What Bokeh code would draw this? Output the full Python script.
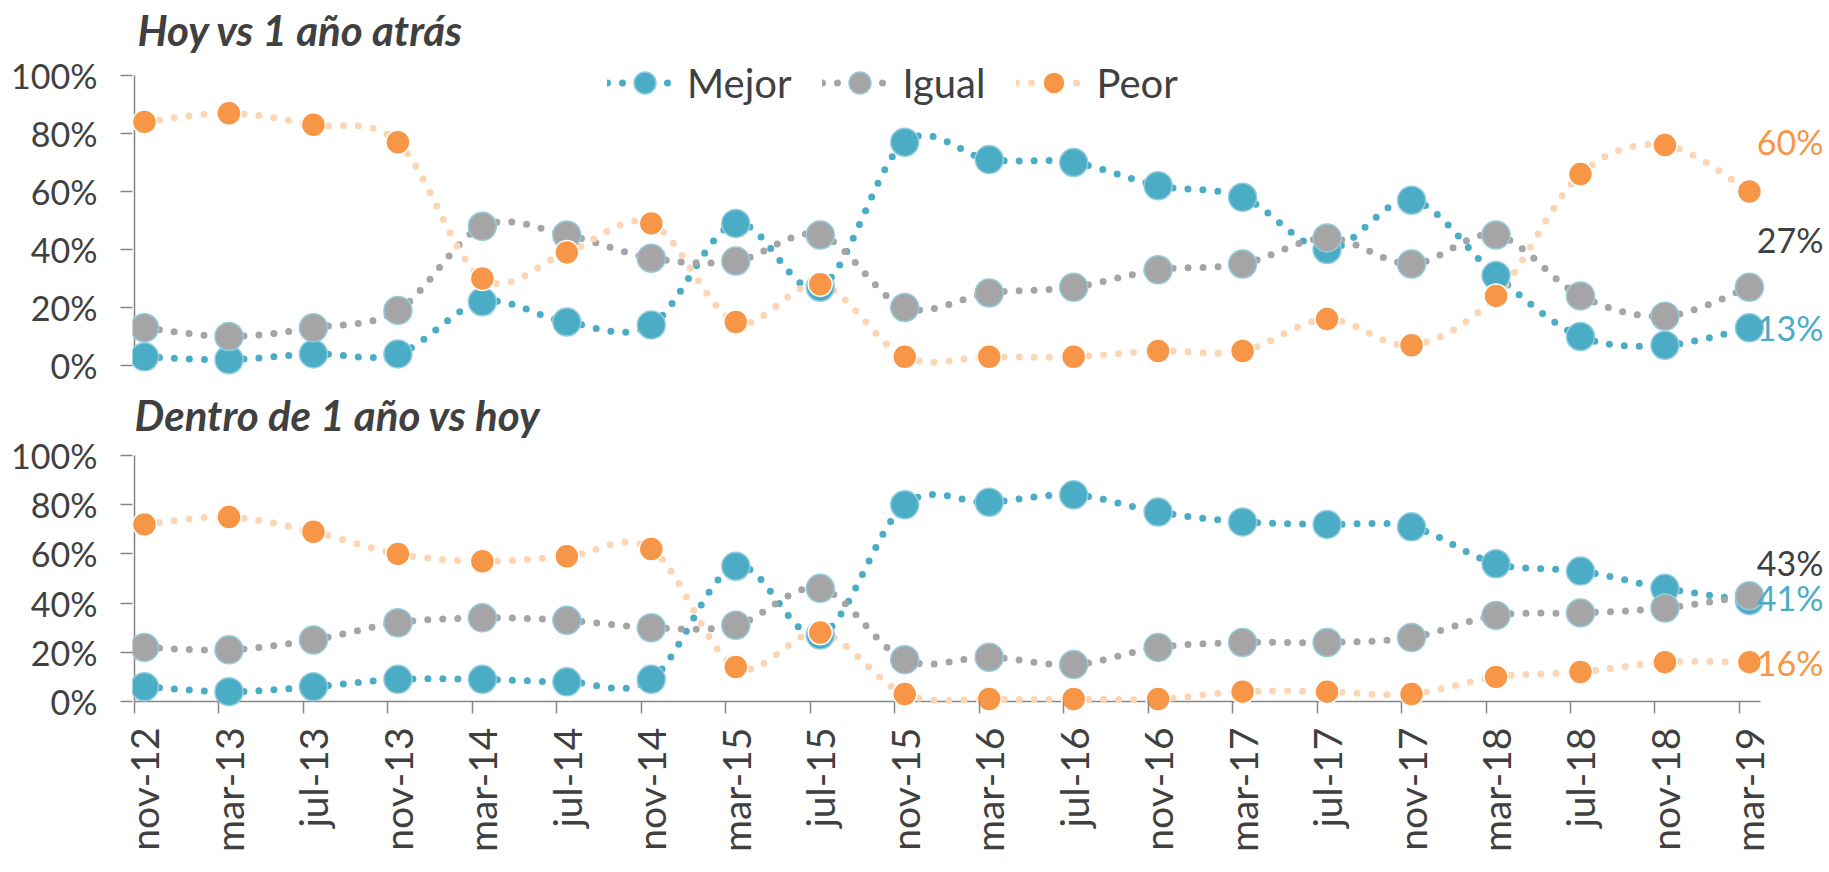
import math
from bokeh.plotting import figure
from bokeh.models import (FixedTicker, NumeralTickFormatter, Legend, LegendItem, Range1d,
                          ColumnDataSource, Label)
from bokeh.layouts import column
from bokeh.embed import file_html
from bokeh.resources import INLINE
from bokeh.core.properties import value

# ---------------- data ----------------
periods = ["nov-12", "mar-13", "jul-13", "nov-13", "mar-14", "jul-14", "nov-14",
           "mar-15", "jul-15", "nov-15", "mar-16", "jul-16", "nov-16", "mar-17",
           "jul-17", "nov-17", "mar-18", "jul-18", "nov-18", "mar-19"]
series_names = ["Mejor", "Igual", "Peor"]

top_title = "Hoy vs 1 año atrás"
top_mejor = [3, 2, 4, 4, 22, 15, 14, 49, 27, 77, 71, 70, 62, 58, 40, 57, 31, 10, 7, 13]
top_igual = [13, 10, 13, 19, 48, 45, 37, 36, 45, 20, 25, 27, 33, 35, 44, 35, 45, 24, 17, 27]
top_peor = [84, 87, 83, 77, 30, 39, 49, 15, 28, 3, 3, 3, 5, 5, 16, 7, 24, 66, 76, 60]

bottom_title = "Dentro de 1 año vs hoy"
bot_mejor = [6, 4, 6, 9, 9, 8, 9, 55, 27, 80, 81, 84, 77, 73, 72, 71, 56, 53, 46, 41]
bot_igual = [22, 21, 25, 32, 34, 33, 30, 31, 46, 17, 18, 15, 22, 24, 24, 26, 35, 36, 38, 43]
bot_peor = [72, 75, 69, 60, 57, 59, 62, 14, 28, 3, 1, 1, 1, 4, 4, 3, 10, 12, 16, 16]

y_ticks = [0, 0.2, 0.4, 0.6, 0.8, 1.0]

# ---------------- style ----------------
FONT = "Lato"
TXT = "#404040"
AXIS = "#868686"
MARK = {"Mejor": "#4BACC6", "Igual": "#A5A5A5", "Peor": "#F79646"}
DOTS = {"Mejor": "#4BACC6", "Igual": "#A5A5A5", "Peor": "#FCD5B5"}
EDGE = {"Mejor": "#93CDDD", "Igual": "#93CDDD", "Peor": "#FFFFFF"}
SIZE = {"Mejor": 28, "Igual": 28, "Peor": 24}
LABEL_COL = {"Mejor": "#4BACC6", "Igual": TXT, "Peor": "#F79646"}

TICK_SHIFT = 0.118          # category boundary sits just left of each point
N = len(periods)
BORDER_L = 132
FRAME_W = 1697
X0 = -0.142
X1 = X0 + FRAME_W / 84.47


def bezier_cols(ys):
    xs = list(range(len(ys)))
    yv = [v / 100 for v in ys]
    n = len(xs)
    d = dict(x0=[], y0=[], x1=[], y1=[], cx0=[], cy0=[], cx1=[], cy1=[])
    for i in range(n - 1):
        ip, inn = max(i - 1, 0), min(i + 2, n - 1)
        d["x0"].append(xs[i]); d["y0"].append(yv[i])
        d["x1"].append(xs[i + 1]); d["y1"].append(yv[i + 1])
        d["cx0"].append(xs[i] + (xs[i + 1] - xs[ip]) / 6)
        d["cy0"].append(yv[i] + (yv[i + 1] - yv[ip]) / 6)
        d["cx1"].append(xs[i + 1] - (xs[inn] - xs[i]) / 6)
        d["cy1"].append(yv[i + 1] - (yv[inn] - yv[i]) / 6)
    return ColumnDataSource(d)


def make_fig(title, title_pos, data, label_pos, show_x, frame_h, y_range, b_bottom, legend_loc):
    p = figure(frame_width=FRAME_W, frame_height=frame_h,
               x_range=Range1d(X0, X1), y_range=Range1d(*y_range),
               min_border_left=BORDER_L, min_border_right=0,
               min_border_top=0, min_border_bottom=b_bottom,
               output_backend="svg", toolbar_location=None)
    p.outline_line_color = None
    p.xgrid.visible = False
    p.ygrid.visible = False
    p.background_fill_color = None
    p.border_fill_color = "white"

    p.add_layout(Label(x=title_pos[0], y=title_pos[1], x_units="screen", y_units="screen",
                       text=title, text_font=FONT, text_font_style="bold italic",
                       text_font_size="42px", text_color=TXT,
                       text_align="left", text_baseline="middle"))

    ya = p.yaxis[0]
    ya.ticker = FixedTicker(ticks=y_ticks)
    ya.formatter = NumeralTickFormatter(format="0%")
    ya.axis_line_color = None
    ya.major_tick_line_color = AXIS
    ya.major_tick_line_width = 1.5
    ya.major_tick_out = 12
    ya.major_tick_in = 0
    ya.minor_tick_line_color = None
    ya.major_label_standoff = 23
    ya.major_label_text_font = FONT
    ya.major_label_text_font_size = "34px"
    ya.major_label_text_color = TXT

    # y axis line from 0% to 100%
    p.segment(x0=[-TICK_SHIFT], y0=[y_ticks[0]], x1=[-TICK_SHIFT], y1=[y_ticks[-1]],
              line_color=AXIS, line_width=1.5)

    xa = p.xaxis[0]
    if show_x:
        xa.ticker = FixedTicker(ticks=list(range(N)),
                                minor_ticks=[i - TICK_SHIFT for i in range(N)])
        xa.major_label_overrides = {i: periods[i] for i in range(N)}
        xa.axis_line_color = None
        xa.major_tick_line_color = None
        xa.major_tick_out = 0
        xa.major_tick_in = 0
        xa.minor_tick_line_color = AXIS
        xa.minor_tick_line_width = 1.5
        xa.minor_tick_in = 12
        xa.minor_tick_out = 0
        xa.major_label_orientation = math.pi / 2
        xa.major_label_standoff = 14
        xa.major_label_text_font = FONT
        xa.major_label_text_font_size = "39px"
        xa.major_label_text_color = TXT
        p.segment(x0=[-TICK_SHIFT], y0=[0], x1=[N - 1 - TICK_SHIFT + 0.25], y1=[0],
                  line_color=AXIS, line_width=1.5)
    else:
        xa.visible = False

    lines, marks = {}, {}
    for name in series_names:
        lines[name] = p.bezier(x0="x0", y0="y0", x1="x1", y1="y1", cx0="cx0", cy0="cy0",
                               cx1="cx1", cy1="cy1", source=bezier_cols(data[name]),
                               line_color=DOTS[name], line_width=7, line_dash="0 15",
                               line_cap="round")
    for name in series_names:
        ys = data[name]
        marks[name] = p.scatter(x=list(range(len(ys))), y=[v / 100 for v in ys],
                                size=SIZE[name], fill_color=MARK[name],
                                line_color=EDGE[name], line_width=1.5)

    # end labels (last value of each series)
    for name in series_names:
        ys = data[name]
        dx, dy = label_pos[name]
        p.text(x=[len(ys) - 1], y=[ys[-1] / 100], text=[f"{ys[-1]}%"],
               x_offset=dx, y_offset=dy, text_align="right", text_baseline="middle",
               text_font=value(FONT), text_font_size="34px", text_color=LABEL_COL[name])

    if legend_loc is not None:
        leg = Legend(items=[LegendItem(label=n, renderers=[lines[n], marks[n]]) for n in series_names],
                     orientation="horizontal", location=legend_loc,
                     glyph_width=75, glyph_height=55, label_standoff=5, spacing=31,
                     padding=0, margin=0, border_line_color=None,
                     background_fill_alpha=0,
                     label_text_font=FONT, label_text_font_size="40px",
                     label_text_color=TXT)
        p.add_layout(leg)
    return p


# top chart: frame spans canvas y 0..388  (100% at 75, 0% at 365)
top = make_fig(top_title, (5, 388 - 29),
               {"Mejor": top_mejor, "Igual": top_igual, "Peor": top_peor},
               {"Mejor": (74, 0), "Igual": (74, -48), "Peor": (74, -50)},
               False, 388, (-23 / 290, 1 + 75 / 290), 0, (475, 278))
# bottom chart: frame spans page y 388..713  (100% at 455, 0% at 701)
bottom = make_fig(bottom_title, (2, 713 - 414),
                  {"Mejor": bot_mejor, "Igual": bot_igual, "Peor": bot_peor},
                  {"Mejor": (74, -3), "Igual": (74, -33), "Peor": (74, 0)},
                  True, 325, (-12 / 246, 1 + 67 / 246), 155, None)

layout = column(top, bottom, spacing=0)
open("out.html", "w").write(file_html(layout, INLINE))
